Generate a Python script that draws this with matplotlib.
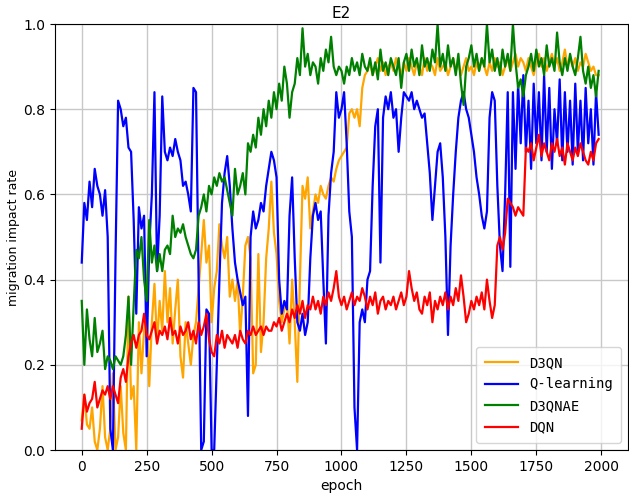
import numpy as np
import matplotlib
matplotlib.use('Agg')
import matplotlib.pyplot as plt

epochs = np.arange(0, 2000, 10)

q_learning = [
    0.44, 0.58, 0.54, 0.63, 0.57, 0.66, 0.62, 0.60, 0.55, 0.61,
    0.50, 0.05, 0.00, 0.45, 0.82, 0.80, 0.76, 0.78, 0.71, 0.70,
    0.54, 0.32, 0.57, 0.52, 0.55, 0.22, 0.48, 0.60, 0.84, 0.42,
    0.55, 0.83, 0.70, 0.68, 0.71, 0.69, 0.73, 0.70, 0.68, 0.62,
    0.63, 0.60, 0.56, 0.85, 0.84, 0.40, 0.00, 0.02, 0.33, 0.32,
    0.00, 0.00, 0.20, 0.40, 0.58, 0.65, 0.69, 0.62, 0.52, 0.44,
    0.40, 0.37, 0.34, 0.36, 0.08, 0.50, 0.56, 0.52, 0.54, 0.58,
    0.56, 0.62, 0.66, 0.70, 0.68, 0.64, 0.40, 0.32, 0.35, 0.33,
    0.55, 0.64, 0.45, 0.30, 0.28, 0.32, 0.27, 0.30, 0.45, 0.55,
    0.58, 0.54, 0.56, 0.40, 0.25, 0.55, 0.65, 0.70, 0.84, 0.78,
    0.80, 0.84, 0.72, 0.56, 0.50, 0.10, 0.00, 0.30, 0.33, 0.30,
    0.40, 0.42, 0.62, 0.76, 0.80, 0.44, 0.78, 0.83, 0.80, 0.84,
    0.78, 0.80, 0.70, 0.78, 0.84, 0.83, 0.82, 0.84, 0.80, 0.82,
    0.80, 0.78, 0.79, 0.72, 0.65, 0.54, 0.62, 0.70, 0.72, 0.64,
    0.50, 0.27, 0.48, 0.60, 0.70, 0.78, 0.82, 0.84, 0.80, 0.78,
    0.74, 0.70, 0.64, 0.60, 0.55, 0.52, 0.56, 0.78, 0.84, 0.82,
    0.62, 0.48, 0.42, 0.60, 0.84, 0.43, 0.84, 0.66, 0.86, 0.72,
    0.88, 0.70, 0.82, 0.66, 0.86, 0.72, 0.84, 0.68, 0.88, 0.70,
    0.85, 0.66, 0.80, 0.72, 0.87, 0.68, 0.84, 0.70, 0.82, 0.67,
    0.86, 0.70, 0.82, 0.68, 0.85, 0.72, 0.80, 0.67, 0.84, 0.74,
]

d3qnae = [
    0.35, 0.20, 0.33, 0.26, 0.22, 0.31, 0.23, 0.25, 0.28, 0.19,
    0.22, 0.21, 0.19, 0.22, 0.21, 0.20, 0.22, 0.27, 0.36, 0.20,
    0.34, 0.47, 0.45, 0.50, 0.40, 0.35, 0.54, 0.44, 0.48, 0.42,
    0.46, 0.42, 0.47, 0.48, 0.46, 0.55, 0.50, 0.52, 0.51, 0.53,
    0.50, 0.48, 0.46, 0.45, 0.47, 0.55, 0.57, 0.60, 0.56, 0.62,
    0.60, 0.64, 0.62, 0.65, 0.63, 0.64, 0.61, 0.58, 0.55, 0.66,
    0.60, 0.62, 0.65, 0.60, 0.72, 0.70, 0.74, 0.71, 0.78, 0.74,
    0.80, 0.76, 0.82, 0.78, 0.84, 0.80, 0.86, 0.82, 0.90, 0.86,
    0.78, 0.84, 0.86, 0.92, 0.88, 0.99, 0.90, 0.93, 0.88, 0.91,
    0.90, 0.86, 0.92, 0.89, 0.94, 0.91, 0.97, 0.90, 0.88, 0.90,
    0.89, 0.86, 0.90, 0.88, 0.92, 0.89, 0.91, 0.88, 0.93, 0.90,
    0.89, 0.92, 0.88, 0.91, 0.87, 0.94, 0.89, 0.91, 0.88, 0.92,
    0.90, 0.88, 0.92, 0.85, 0.91, 0.93, 0.89, 0.94, 0.90, 0.92,
    0.88, 0.95, 0.90, 0.92, 0.89, 0.94, 0.91, 1.00, 0.90, 0.93,
    0.89, 0.95, 0.90, 0.92, 0.88, 0.93, 0.86, 0.81, 0.90, 0.92,
    0.95, 0.90, 0.93, 0.89, 0.92, 0.90, 1.00, 0.91, 0.94, 0.89,
    0.92, 0.88, 0.94, 0.90, 0.93, 0.89, 1.00, 0.91, 0.85, 0.87,
    0.83, 0.88, 0.90, 0.93, 0.89, 0.94, 0.90, 0.92, 0.88, 0.95,
    0.90, 0.92, 0.89, 0.98, 0.91, 0.88, 0.92, 0.89, 0.93, 0.90,
    0.88, 0.92, 0.97, 0.89, 0.86, 0.90, 0.85, 0.88, 0.83, 0.89,
]

d3qn = [
    0.07, 0.13, 0.06, 0.05, 0.10, 0.02, 0.00, 0.05, 0.15, 0.03,
    0.00, 0.05, 0.18, 0.00, 0.03, 0.15, 0.04, 0.00, 0.36, 0.12,
    0.15, 0.00, 0.30, 0.18, 0.28, 0.32, 0.15, 0.30, 0.39, 0.25,
    0.35, 0.28, 0.42, 0.30, 0.38, 0.25, 0.33, 0.40, 0.22, 0.17,
    0.30, 0.25, 0.20, 0.27, 0.30, 0.38, 0.46, 0.54, 0.44, 0.48,
    0.30, 0.38, 0.42, 0.53, 0.48, 0.45, 0.50, 0.36, 0.40, 0.35,
    0.40, 0.27, 0.36, 0.48, 0.50, 0.45, 0.18, 0.20, 0.46, 0.23,
    0.30, 0.45, 0.52, 0.63, 0.51, 0.46, 0.35, 0.30, 0.33, 0.35,
    0.25, 0.40, 0.30, 0.16, 0.40, 0.62, 0.59, 0.64, 0.52, 0.56,
    0.60, 0.58, 0.62, 0.60, 0.59, 0.62, 0.64, 0.63, 0.66, 0.68,
    0.69, 0.70, 0.71, 0.79, 0.80, 0.78, 0.80, 0.76, 0.85, 0.88,
    0.89, 0.91, 0.88, 0.90, 0.92, 0.89, 0.91, 0.88, 0.90, 0.91,
    0.89, 0.92, 0.90, 0.88, 0.91, 0.89, 0.92, 0.90, 0.88, 0.91,
    0.90, 0.88, 0.92, 0.89, 0.91, 0.90, 0.88, 0.92, 0.89, 0.90,
    0.91, 0.88, 0.90, 0.92, 0.89, 0.91, 0.88, 0.90, 0.92, 0.89,
    0.90, 0.88, 0.91, 0.89, 0.92, 0.90, 0.88, 0.91, 0.89, 0.92,
    0.90, 0.91, 0.88, 0.90, 0.92, 0.89, 0.91, 0.93, 0.90, 0.92,
    0.91, 0.89, 0.92, 0.90, 0.88, 0.91, 0.93, 0.90, 0.92, 0.89,
    0.91, 0.93, 0.90, 0.92, 0.89, 0.91, 0.94, 0.90, 0.92, 0.90,
    0.92, 0.89, 0.91, 0.90, 0.93, 0.91, 0.89, 0.90, 0.88, 0.88,
]

dqn = [
    0.05, 0.13, 0.09, 0.11, 0.12, 0.16, 0.10, 0.12, 0.14, 0.13,
    0.15, 0.12, 0.15, 0.13, 0.11, 0.17, 0.19, 0.16, 0.22, 0.25,
    0.27, 0.24, 0.27, 0.28, 0.32, 0.27, 0.26, 0.28, 0.30, 0.25,
    0.28, 0.27, 0.29, 0.26, 0.31, 0.27, 0.28, 0.25, 0.29, 0.27,
    0.28, 0.30, 0.26, 0.28, 0.25, 0.30, 0.27, 0.29, 0.32, 0.26,
    0.23, 0.22, 0.27, 0.25, 0.28, 0.24, 0.27, 0.26, 0.25, 0.27,
    0.24, 0.28, 0.26, 0.25, 0.28, 0.27, 0.29, 0.27, 0.28, 0.29,
    0.27, 0.29, 0.28, 0.28, 0.30, 0.29, 0.31, 0.28, 0.30, 0.32,
    0.30, 0.33, 0.31, 0.34, 0.32, 0.35, 0.31, 0.34, 0.33, 0.36,
    0.33, 0.35, 0.32, 0.36, 0.34, 0.37, 0.35, 0.38, 0.42, 0.36,
    0.34, 0.36, 0.33, 0.35, 0.37, 0.34, 0.36, 0.35, 0.38, 0.36,
    0.33, 0.36, 0.34, 0.37, 0.32, 0.35, 0.36, 0.33, 0.35, 0.34,
    0.36, 0.33, 0.35, 0.37, 0.34, 0.36, 0.42, 0.38, 0.35, 0.37,
    0.33, 0.32, 0.36, 0.34, 0.37, 0.30, 0.35, 0.33, 0.36, 0.34,
    0.37, 0.33, 0.36, 0.34, 0.38, 0.35, 0.41, 0.36, 0.30, 0.32,
    0.35, 0.33, 0.36, 0.34, 0.37, 0.33, 0.40, 0.35, 0.31, 0.34,
    0.48, 0.50, 0.47, 0.51, 0.59, 0.58, 0.57, 0.55, 0.57, 0.56,
    0.55, 0.71, 0.70, 0.72, 0.68, 0.71, 0.74, 0.69, 0.72, 0.70,
    0.68, 0.72, 0.70, 0.73, 0.69, 0.71, 0.67, 0.72, 0.70, 0.68,
    0.71, 0.69, 0.72, 0.70, 0.68, 0.67, 0.70, 0.68, 0.72, 0.73,
]

series_names = ['D3QN', 'Q-learning', 'D3QNAE', 'DQN']
series_colors = ['orange', 'blue', 'green', 'red']

fig = plt.figure(figsize=(6.29, 4.96), dpi=100)
ax = fig.add_axes([0.0874, 0.0927, 0.9110, 0.8589])

for name, vals, col in zip(series_names, [d3qn, q_learning, d3qnae, dqn], series_colors):
    ax.plot(epochs, vals, color=col, linewidth=1.6, label=name)

ax.set_xlim(-103, 2103)
ax.set_ylim(0, 1)
ax.set_xticks([0, 250, 500, 750, 1000, 1250, 1500, 1750, 2000])
ax.set_yticks([0.0, 0.2, 0.4, 0.6, 0.8, 1.0])
ax.grid(True, color='#c8c8c8', linewidth=1)
ax.tick_params(labelsize=10)
ax.set_title('E2', fontsize=11, pad=4)
ax.set_xlabel('epoch', fontsize=10)
ax.set_ylabel('migration impact rate', fontsize=9, labelpad=2)
ax.legend(loc='lower right', prop={'family': 'DejaVu Sans Mono', 'size': 10},
          handlelength=2.4, borderpad=0.6, labelspacing=0.55)

fig.savefig('out.png', dpi=100)
